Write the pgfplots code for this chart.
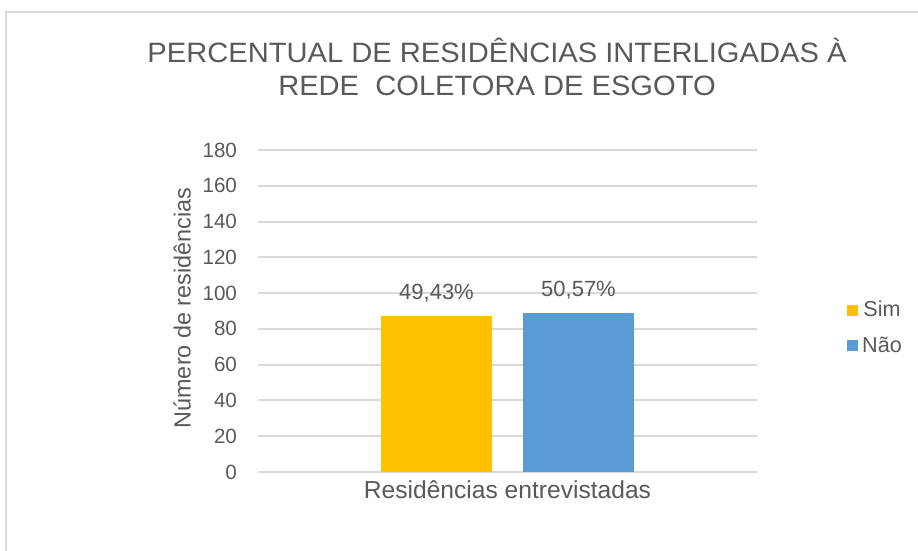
\documentclass[border=0pt]{standalone}
\usepackage{fontspec}
\setmainfont{Liberation Sans}
\newfontfamily\titlefont{Liberation Sans}[FakeStretch=1.04]
\usepackage{pgfplots}
\pgfplotsset{compat=1.18}
\definecolor{sim}{HTML}{FFC000}
\definecolor{nao}{HTML}{5B9BD5}
\definecolor{txt}{HTML}{595959}
\definecolor{grd}{HTML}{D9D9D9}
\begin{document}
\begin{tikzpicture}
% 1 px of the reference = 0.5pt
\path[use as bounding box] (0,0) rectangle (459pt,275.5pt);
\draw[grd, line width=1pt] (3pt,0) -- (3pt,269.5pt) -- (460pt,269.5pt);
\node[txt, align=center, font=\titlefont\fontsize{14}{16.5}\selectfont] at (248.5pt,242pt)
  {PERCENTUAL DE RESIDÊNCIAS INTERLIGADAS À\\REDE\ \ COLETORA DE ESGOTO};
\begin{axis}[
    at={(129pt,39.5pt)}, anchor=south west,
    scale only axis,
    width=249.5pt, height=161pt,
    ybar=15.5pt, bar width=55.5pt,
    xmin=-1, xmax=1,
    ymin=0, ymax=180,
    ytick={0,20,...,180},
    xtick={0}, xticklabels={Residências entrevistadas},
    axis line style={draw=none},
    major tick length=0pt,
    ymajorgrids=true,
    grid style={grd, line width=1pt},
    tick label style={txt, font=\fontsize{10.3}{12}\selectfont},
    /pgf/number format/assume math mode=true,
    yticklabel style={xshift=-7pt},
    xticklabel style={font=\fontsize{12.3}{14}\selectfont, yshift=-1pt},
    ylabel={Número de residências},
    ylabel style={txt, font=\fontsize{11.7}{14}\selectfont, at={(axis description cs:-0.152,0.509)}, anchor=center},
    point meta=explicit symbolic,
    nodes near coords,
    nodes near coords style={txt, font=\fontsize{11}{13}\selectfont, yshift=3.3pt},
    legend style={draw=none, fill=none, at={(axis description cs:1.168,0.447)}, anchor=west,
      font=\fontsize{10.8}{12}\selectfont, text=txt, row sep=4.5pt,
      /tikz/every even column/.append style={column sep=1pt}},
    legend image code/.code={\fill[#1] (0pt,-2.75pt) rectangle (5.5pt,2.75pt);},
]
\addplot[fill=sim, draw=none] coordinates {(0,87) [49,43\%]};
\addplot[fill=nao, draw=none] coordinates {(0,89) [50,57\%]};
\legend{Sim, Não}
\end{axis}
\end{tikzpicture}
\end{document}
